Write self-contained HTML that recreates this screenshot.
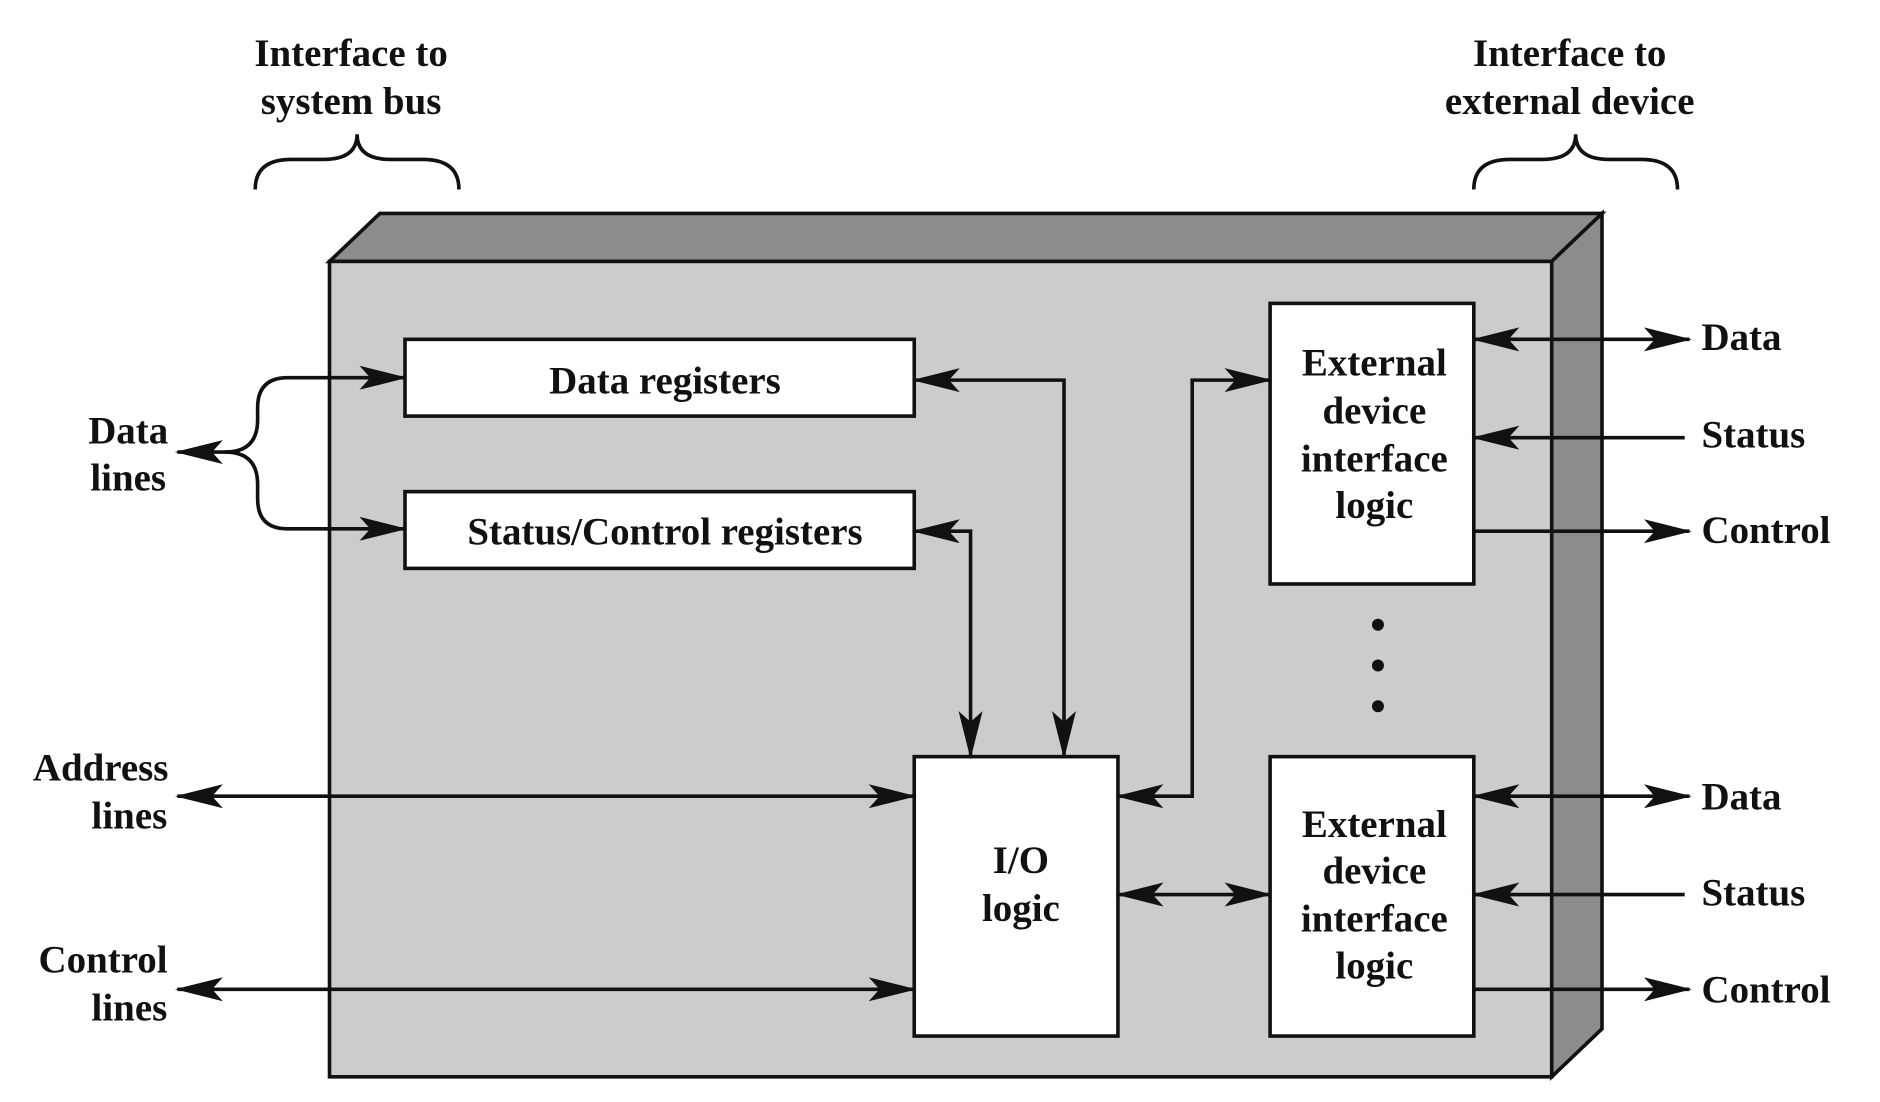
<!DOCTYPE html>
<html><head><style>
html,body{margin:0;padding:0;background:#fff;}
svg{display:block;}
text{font-family:"Liberation Serif",serif;font-weight:bold;font-size:32.5px;fill:#111;text-anchor:middle;}
</style></head><body>
<svg width="1880" height="1102" viewBox="0 0 1569 919" preserveAspectRatio="none">
<defs>
<marker id="a" viewBox="0 0 40 20" refX="38" refY="10" markerWidth="40" markerHeight="20" markerUnits="userSpaceOnUse" orient="auto-start-reverse">
<path d="M0,0 L40,10 L0,20 L9,10 Z" fill="#111"/>
</marker>
</defs>
<polygon points="275,218 317,178 1337,178 1295,218" fill="#8c8c8c" stroke="#111" stroke-width="3"/>
<polygon points="1295,218 1337,178 1337,858 1295,898" fill="#8c8c8c" stroke="#111" stroke-width="3"/>
<rect x="275" y="218" width="1020" height="680" fill="#cccccc" stroke="#111" stroke-width="3"/>
<g fill="#fff" stroke="#111" stroke-width="3">
<rect x="338" y="283" width="425" height="64"/>
<rect x="338" y="410" width="425" height="64"/>
<rect x="1060" y="253" width="170" height="234"/>
<rect x="1060" y="631" width="170" height="233"/>
<rect x="763" y="631" width="170" height="233"/>
</g>
<g fill="#111"><circle cx="1150" cy="521" r="5"/><circle cx="1150" cy="555" r="5"/><circle cx="1150" cy="589" r="5"/></g>
<g fill="none" stroke="#111" stroke-width="3">
<path d="M200,377 L148,377" marker-end="url(#a)"/>
<path d="M188,377 Q215,377 215,350 L215,340 Q215,315 240,315 L338,315" marker-end="url(#a)"/>
<path d="M188,377 Q215,377 215,404 L215,416 Q215,441 240,441 L338,441" marker-end="url(#a)"/>
<path d="M148,664 L763,664" marker-start="url(#a)" marker-end="url(#a)"/>
<path d="M148,825 L763,825" marker-start="url(#a)" marker-end="url(#a)"/>
<path d="M763,317 L888,317 L888,631" marker-start="url(#a)" marker-end="url(#a)"/>
<path d="M763,443 L810,443 L810,631" marker-start="url(#a)" marker-end="url(#a)"/>
<path d="M933,664 L995,664 L995,317 L1060,317" marker-start="url(#a)" marker-end="url(#a)"/>
<path d="M933,746 L1060,746" marker-start="url(#a)" marker-end="url(#a)"/>
<path d="M1230,283 L1410,283" marker-start="url(#a)" marker-end="url(#a)"/>
<path d="M1406,365 L1230,365" marker-end="url(#a)"/>
<path d="M1230,443 L1410,443" marker-end="url(#a)"/>
<path d="M1230,664 L1410,664" marker-start="url(#a)" marker-end="url(#a)"/>
<path d="M1406,746 L1230,746" marker-end="url(#a)"/>
<path d="M1230,825 L1410,825" marker-end="url(#a)"/>
<path d="M213,158 Q213,133 243,133 L270,133 Q298,133 298,112 Q298,133 326,133 L353,133 Q383,133 383,158"/>
<path d="M1230,158 Q1230,133 1260,133 L1287,133 Q1315,133 1315,112 Q1315,133 1343,133 L1370,133 Q1400,133 1400,158"/>
</g>
<text x="293" y="55">Interface to</text>
<text x="293" y="95">system bus</text>
<text x="1310" y="55">Interface to</text>
<text x="1310" y="95">external device</text>
<text x="107" y="370">Data</text>
<text x="107" y="409">lines</text>
<text x="84" y="651">Address</text>
<text x="108" y="691">lines</text>
<text x="86" y="811">Control</text>
<text x="108" y="851">lines</text>
<text x="555" y="328">Data registers</text>
<text x="555" y="454">Status/Control registers</text>
<text x="1147" y="313">External</text>
<text x="1147" y="353">device</text>
<text x="1147" y="393">interface</text>
<text x="1147" y="432">logic</text>
<text x="1147" y="698">External</text>
<text x="1147" y="737">device</text>
<text x="1147" y="777">interface</text>
<text x="1147" y="816">logic</text>
<text x="852" y="728">I/O</text>
<text x="852" y="768">logic</text>
<text x="1420" y="292" style="text-anchor:start">Data</text>
<text x="1420" y="373" style="text-anchor:start">Status</text>
<text x="1420" y="453" style="text-anchor:start">Control</text>
<text x="1420" y="675" style="text-anchor:start">Data</text>
<text x="1420" y="755" style="text-anchor:start">Status</text>
<text x="1420" y="836" style="text-anchor:start">Control</text>
</svg>
</body></html>
